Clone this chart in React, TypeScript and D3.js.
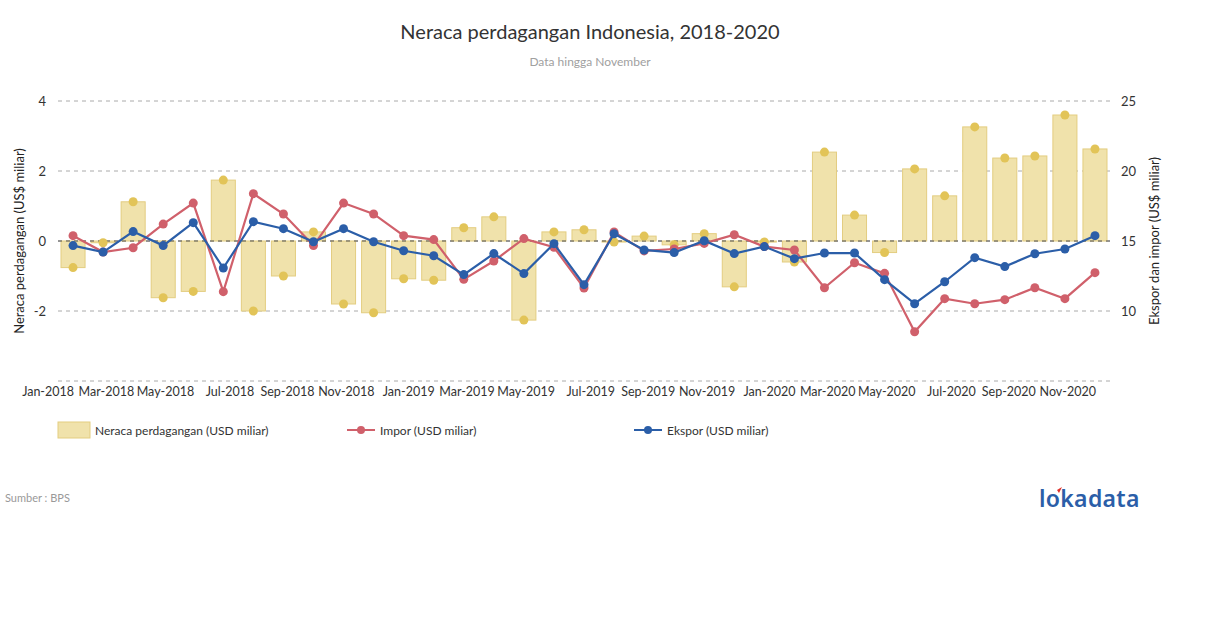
import * as d3 from 'd3';
import { useEffect, useRef } from 'react';

const months = [
  'Jan-2018', 'Feb-2018', 'Mar-2018', 'Apr-2018', 'May-2018', 'Jun-2018', 'Jul-2018', 'Aug-2018', 'Sep-2018', 'Oct-2018', 'Nov-2018', 'Dec-2018',
  'Jan-2019', 'Feb-2019', 'Mar-2019', 'Apr-2019', 'May-2019', 'Jun-2019', 'Jul-2019', 'Aug-2019', 'Sep-2019', 'Oct-2019', 'Nov-2019', 'Dec-2019',
  'Jan-2020', 'Feb-2020', 'Mar-2020', 'Apr-2020', 'May-2020', 'Jun-2020', 'Jul-2020', 'Aug-2020', 'Sep-2020', 'Oct-2020', 'Nov-2020',
];

// neraca perdagangan (USD miliar)
const balance = [
  -0.76, -0.05, 1.12, -1.62, -1.44, 1.74, -2.0, -1.0, 0.26, -1.8, -2.05, -1.08,
  -1.12, 0.38, 0.69, -2.26, 0.26, 0.32, -0.03, 0.14, -0.11, 0.21, -1.31, -0.03,
  -0.6, 2.54, 0.74, -0.33, 2.06, 1.29, 3.26, 2.37, 2.43, 3.6, 2.63,
];

const impor = [
  15.38, 14.21, 14.52, 16.21, 17.71, 11.38, 18.38, 16.93, 14.67, 17.71, 16.93, 15.38,
  15.1, 12.26, 13.57, 15.17, 14.55, 11.64, 15.64, 14.29, 14.43, 14.83, 15.45, 14.6,
  14.36, 11.66, 13.45, 12.69, 8.52, 10.88, 10.52, 10.81, 11.66, 10.88, 12.74,
];

const ekspor = [
  14.67, 14.21, 15.67, 14.67, 16.31, 13.07, 16.38, 15.88, 14.95, 15.88, 14.95, 14.3,
  13.95, 12.6, 14.1, 12.67, 14.81, 11.88, 15.52, 14.36, 14.17, 15.02, 14.1, 14.6,
  13.74, 14.14, 14.14, 12.24, 10.52, 12.09, 13.81, 13.17, 14.09, 14.43, 15.38,
];

const leftTicks = [-4, -2, 0, 2, 4];
const rightTicks = [10, 15, 20, 25];

const FONT = 'Lato, "Open Sans", sans-serif';
const BAR_FILL = '#f0e2ab';
const BAR_STROKE = '#e3cd80';
const DOT_YELLOW = '#e2c458';
const RED = '#d0606b';
const BLUE = '#2b5ea8';

export default function App() {
  const ref = useRef<SVGSVGElement>(null);

  useEffect(() => {
    document.body.style.margin = '0';
    const svg = d3.select(ref.current);
    svg.selectAll('*').remove();

    const left = 58, right = 1110, top = 101, bottom = 381;

    const x = d3.scaleBand().domain(months).range([left, right]).paddingInner(0.2).paddingOuter(0.1);
    const cx = (d: string) => (x(d) || 0) + x.bandwidth() / 2;
    const yL = d3.scaleLinear().domain([-4, 4]).range([bottom, top]);
    const yR = d3.scaleLinear().domain([5, 25]).range([bottom, top]);

    // title
    svg.append('text').attr('x', 590).attr('y', 39).attr('text-anchor', 'middle')
      .attr('font-family', FONT).attr('font-size', 20).attr('fill', '#333')
      .text('Neraca perdagangan Indonesia, 2018-2020');
    svg.append('text').attr('x', 590).attr('y', 66).attr('text-anchor', 'middle')
      .attr('font-family', FONT).attr('font-size', 12).attr('fill', '#a0a0a0')
      .text('Data hingga November');

    // grid
    svg.selectAll('.grid').data(leftTicks).enter().append('line')
      .attr('x1', left).attr('x2', right)
      .attr('y1', (d) => yL(d)).attr('y2', (d) => yL(d))
      .attr('stroke', '#aaa').attr('stroke-dasharray', '4,4').attr('stroke-width', 1);

    // ticks
    svg.selectAll('.lt').data(leftTicks.filter((d) => d !== -4)).enter().append('text')
      .attr('x', 46).attr('y', (d) => yL(d) + 5).attr('text-anchor', 'end')
      .attr('font-family', FONT).attr('font-size', 13).attr('fill', '#333')
      .text((d) => String(d));
    svg.selectAll('.rt').data(rightTicks).enter().append('text')
      .attr('x', 1121).attr('y', (d) => yR(d) + 5).attr('text-anchor', 'start')
      .attr('font-family', FONT).attr('font-size', 13).attr('fill', '#333')
      .text((d) => String(d));

    // axis titles
    svg.append('text').attr('transform', `translate(24,${yL(0)}) rotate(-90)`).attr('text-anchor', 'middle')
      .attr('font-family', FONT).attr('font-size', 13).attr('fill', '#222')
      .text('Neraca perdagangan (US$ miliar)');
    svg.append('text').attr('transform', `translate(1159,${yL(0)}) rotate(-90)`).attr('text-anchor', 'middle')
      .attr('font-family', FONT).attr('font-size', 13).attr('fill', '#222')
      .text('Ekspor dan impor (US$ miliar)');

    // x labels
    svg.selectAll('.xl').data(months.filter((_, i) => i % 2 === 0)).enter().append('text')
      .attr('x', (d) => cx(d) + 1).attr('y', 396).attr('text-anchor', 'end')
      .attr('font-family', FONT).attr('font-size', 12.5).attr('fill', '#333')
      .text((d) => d);

    // bars
    svg.selectAll('.bar').data(months).enter().append('rect')
      .attr('x', (d) => x(d) || 0)
      .attr('y', (d, i) => yL(Math.max(0, balance[i])))
      .attr('width', x.bandwidth())
      .attr('height', (d, i) => Math.abs(yL(balance[i]) - yL(0)))
      .attr('fill', BAR_FILL).attr('stroke', BAR_STROKE).attr('stroke-width', 1);

    // zero line
    svg.append('line').attr('x1', left).attr('x2', right).attr('y1', yL(0)).attr('y2', yL(0))
      .attr('stroke', '#555').attr('stroke-dasharray', '4,4');

    svg.selectAll('.bdot').data(months).enter().append('circle')
      .attr('cx', cx).attr('cy', (d, i) => yL(balance[i])).attr('r', 4.5).attr('fill', DOT_YELLOW);

    const line = d3.line<number>().x((d, i) => cx(months[i])).y((d) => yR(d));

    const series: [number[], string][] = [[impor, RED], [ekspor, BLUE]];
    series.forEach(([vals, color]) => {
      svg.append('path').datum(vals).attr('d', line).attr('fill', 'none')
        .attr('stroke', color).attr('stroke-width', 2.2);
      svg.append('g').selectAll('circle').data(vals).enter().append('circle')
        .attr('cx', (d, i) => cx(months[i])).attr('cy', (d) => yR(d)).attr('r', 4.5).attr('fill', color);
    });

    // legend
    const lg = svg.append('g').attr('font-family', FONT).attr('font-size', 12).attr('fill', '#333');
    lg.append('rect').attr('x', 58).attr('y', 422).attr('width', 32).attr('height', 16)
      .attr('fill', BAR_FILL).attr('stroke', BAR_STROKE);
    lg.append('text').attr('x', 95).attr('y', 435).text('Neraca perdagangan (USD miliar)');
    const legendLines: [number, string, string][] = [[347, RED, 'Impor (USD miliar)'], [634, BLUE, 'Ekspor (USD miliar)']];
    legendLines.forEach(([lx, color, label]) => {
      lg.append('line').attr('x1', lx).attr('x2', lx + 28).attr('y1', 430).attr('y2', 430)
        .attr('stroke', color).attr('stroke-width', 2);
      lg.append('circle').attr('cx', lx + 14).attr('cy', 430).attr('r', 4).attr('fill', color);
      lg.append('text').attr('x', lx + 33).attr('y', 435).text(label);
    });

    // footer
    svg.append('text').attr('x', 5).attr('y', 502).attr('font-family', FONT).attr('font-size', 11)
      .attr('fill', '#999').text('Sumber : BPS');
    svg.append('text').attr('x', 1039).attr('y', 507).attr('font-family', '"Noto Sans", sans-serif')
      .attr('font-size', 23).attr('font-weight', 600).attr('fill', BLUE).attr('letter-spacing', 0.3).text('lokadata');
    svg.append('path').attr('d', 'M1057,490 L1062,487 L1059,493 Z').attr('fill', '#e0302a');
  }, []);

  return <svg ref={ref} width={1210} height={628} style={{ display: 'block' }} />;
}
